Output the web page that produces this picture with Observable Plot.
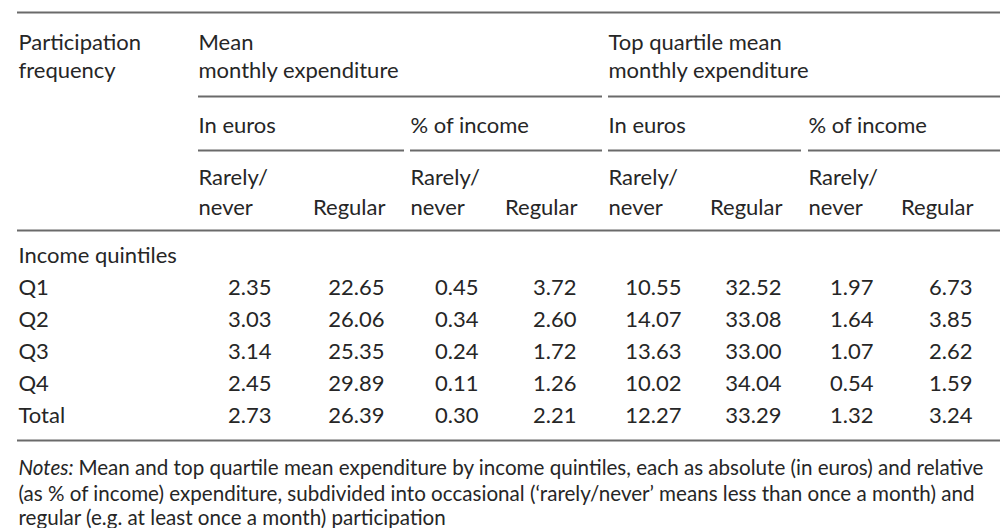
<!DOCTYPE html>
<html>
<head>
<meta charset="utf-8">
<script src="https://cdn.jsdelivr.net/npm/d3@7"></script>
<script src="https://cdn.jsdelivr.net/npm/@observablehq/plot@0.6"></script>
<style>
  html, body { margin: 0; padding: 0; background: #fff; }
  #chart svg { display: block; }
</style>
</head>
<body>
<div id="chart"></div>
<script>
// ---- Data ----
const rowLabels = ["Q1", "Q2", "Q3", "Q4", "Total"];
const meanRarelyEuro = [2.35, 3.03, 3.14, 2.45, 2.73];
const meanRegularEuro = [22.65, 26.06, 25.35, 29.89, 26.39];
const meanRarelyPct = [0.45, 0.34, 0.24, 0.11, 0.30];
const meanRegularPct = [3.72, 2.60, 1.72, 1.26, 2.21];
const topRarelyEuro = [10.55, 14.07, 13.63, 10.02, 12.27];
const topRegularEuro = [32.52, 33.08, 33.00, 34.04, 33.29];
const topRarelyPct = [1.97, 1.64, 1.07, 0.54, 1.32];
const topRegularPct = [6.73, 3.85, 2.62, 1.59, 3.24];

const stubHeader = ["Participation", "frequency"];
const groupHeaders = [["Mean", "monthly expenditure"], ["Top quartile mean", "monthly expenditure"]];
const subHeaders = ["In euros", "% of income", "In euros", "% of income"];
const freqTop = "Rarely/";
const freqLabels = ["never", "Regular"];
const sectionLabel = "Income quintiles";
const notesLead = "Notes:";
const notesLines = [
  "Mean and top quartile mean expenditure by income quintiles, each as absolute (in euros) and relative",
  "(as % of income) expenditure, subdivided into occasional (\u2018rarely/never\u2019 means less than once a month) and",
  "regular (e.g. at least once a month) participation"
];

// ---- Layout (pixel positions of the table grid) ----
const L = {
  stubX: 18,
  colRight: [271, 384, 478, 576, 681, 781, 873, 972],
  groupX: [198, 608],
  groupEnd: [602, 1000],
  subX: [198, 410, 608, 808],
  subEnd: [404, 602, 801, 1000],
  rowY: [287, 319, 351, 383, 415],
  sectionY: 255,
  head1Y: 42, head2Y: 70,
  subY: 125,
  freq1Y: 177, freq2Y: 207,
  rules: { top: 12, group: 96, sub: 150, head: 230, bottom: 440 },
  notesY: [468, 494, 518]
};

const ink = "#262626";
const family = "Lato, 'Open Sans', sans-serif";
const fs = 22;
const nfs = 20.6;

// width of the italic lead word of the notes
const ctx = document.createElement("canvas").getContext("2d");
ctx.font = `italic ${nfs}px Lato`;
const leadW = ctx.measureText(notesLead + " ").width;

// Build tables for marks
const valueCols = [meanRarelyEuro, meanRegularEuro, meanRarelyPct, meanRegularPct,
                   topRarelyEuro, topRegularEuro, topRarelyPct, topRegularPct];
const cells = [];
valueCols.forEach((col, c) => col.forEach((v, r) => cells.push({
  x: L.colRight[c], y: L.rowY[r], text: v.toFixed(2)
})));

const leftTexts = [
  {x: L.stubX, y: L.head1Y, text: stubHeader[0]},
  {x: L.stubX, y: L.head2Y, text: stubHeader[1]},
  ...groupHeaders.flatMap((g, i) => [
    {x: L.groupX[i], y: L.head1Y, text: g[0]},
    {x: L.groupX[i], y: L.head2Y, text: g[1]}
  ]),
  ...subHeaders.map((s, i) => ({x: L.subX[i], y: L.subY, text: s})),
  ...L.subX.flatMap(x => [
    {x, y: L.freq1Y, text: freqTop},
    {x, y: L.freq2Y, text: freqLabels[0]}
  ]),
  {x: L.stubX, y: L.sectionY, text: sectionLabel},
  ...rowLabels.map((r, i) => ({x: L.stubX, y: L.rowY[i], text: r}))
];
const rightTexts = [1, 3, 5, 7].map(c => ({x: L.colRight[c] + 1, y: L.freq2Y, text: freqLabels[1]}));

const rules = [
  {y: L.rules.top, x1: 17, x2: 1000},
  ...L.groupX.map((x, i) => ({y: L.rules.group, x1: x, x2: L.groupEnd[i]})),
  ...L.subX.map((x, i) => ({y: L.rules.sub, x1: x, x2: L.subEnd[i]})),
  {y: L.rules.head, x1: 17, x2: 1000},
  {y: L.rules.bottom, x1: 17, x2: 1000}
];

const notes = notesLines.map((t, i) => ({x: i === 0 ? L.stubX + leadW : L.stubX, y: L.notesY[i], text: t}));

const chart = Plot.plot({
  width: 1000,
  height: 528,
  margin: 0,
  x: {type: "linear", domain: [0, 1000], range: [0, 1000], axis: null},
  y: {type: "linear", domain: [0, 528], range: [0, 528], axis: null},
  style: {fontFamily: family, background: "#fff", color: ink},
  marks: [
    Plot.ruleY(rules, {y: "y", x1: "x1", x2: "x2", stroke: "#6a6a6a", strokeWidth: 1.8}),
    Plot.text(leftTexts, {x: "x", y: "y", text: "text", textAnchor: "start", fontSize: fs, fill: ink}),
    Plot.text(rightTexts, {x: "x", y: "y", text: "text", textAnchor: "end", fontSize: fs, fill: ink}),
    Plot.text(cells, {x: "x", y: "y", text: "text", textAnchor: "end", fontSize: fs, fill: ink}),
    Plot.text([{x: L.stubX, y: L.notesY[0], text: notesLead}], {x: "x", y: "y", text: "text", textAnchor: "start", fontSize: nfs, fontStyle: "italic", fill: ink}),
    Plot.text(notes, {x: "x", y: "y", text: "text", textAnchor: "start", fontSize: nfs, fill: ink})
  ]
});
document.getElementById("chart").append(chart);
</script>
</body>
</html>
